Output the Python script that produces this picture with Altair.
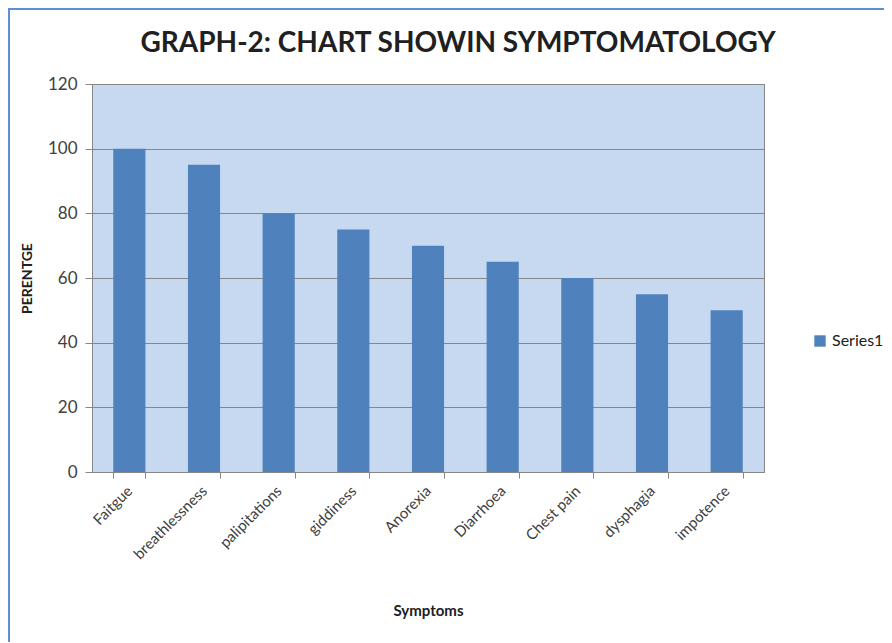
import altair as alt
import pandas as pd

symptoms = ["Faitgue", "breathlessness", "palipitations", "giddiness", "Anorexia",
            "Diarrhoea", "Chest pain", "dysphagia", "impotence"]
values = [100, 95, 80, 75, 70, 65, 60, 55, 50]
series = ["Series1"] * len(symptoms)
chart_title = ["GRAPH-2: CHART SHOWIN SYMPTOMATOLOGY"]

df = pd.DataFrame({"Symptom": symptoms, "Value": values, "Series": series})

FONT = "Lato"

bars = alt.Chart(df).mark_bar(color="#4F81BD").encode(
    x=alt.X("Symptom:N", sort=symptoms,
            scale=alt.Scale(paddingInner=0.57, paddingOuter=0.285),
            axis=alt.Axis(title="Symptoms", labelAngle=-45, labelAlign="right",
                          labelBaseline="middle", labelFontSize=15, labelColor="#404040",
                          labelFont=FONT, labelPadding=10,
                          tickBand="extent", tickSize=6, tickColor="#868686",
                          domainColor="#868686", titleFont=FONT, titleFontSize=15,
                          titleFontWeight="bold", titleColor="#202020",
                          titleY=138, titleBaseline="middle", grid=False)),
    y=alt.Y("Value:Q", scale=alt.Scale(domain=[0, 120]),
            axis=alt.Axis(title="PERENTGE", values=[0, 20, 40, 60, 80, 100, 120],
                          labelFontSize=17, labelColor="#404040", labelFont=FONT,
                          labelPadding=8, tickSize=7, tickColor="#868686",
                          domainColor="#868686", gridColor="#868686", gridWidth=1,
                          titleFont=FONT, titleFontSize=14, titleFontWeight="bold",
                          titleColor="#202020", titleX=-65, titleBaseline="middle")),
    color=alt.Color("Series:N", scale=alt.Scale(range=["#4F81BD"]),
                    legend=alt.Legend(title=None, orient="none", legendX=720, legendY=249,
                                      symbolType="square", symbolSize=130,
                                      symbolStrokeWidth=0, labelFont=FONT,
                                      labelFontSize=16, labelColor="#202020")),
)

title_df = pd.DataFrame({"t": chart_title})
title_mark = alt.Chart(title_df).mark_text(
    font=FONT, fontSize=28, fontWeight="bold", color="#202020",
    align="center", baseline="alphabetic").encode(
    text="t:N", x=alt.value(366), y=alt.value(-32))

frame_df = pd.DataFrame({"k": [0]})
left_border = alt.Chart(frame_df).mark_rule(color="#5B8FD6", strokeWidth=2).encode(
    x=alt.value(-83), y=alt.value(-75), y2=alt.value(700))
top_border = alt.Chart(frame_df).mark_rule(color="#5B8FD6", strokeWidth=2).encode(
    x=alt.value(-84), x2=alt.value(900), y=alt.value(-75), y2=alt.value(-75))

chart = alt.layer(bars, title_mark, left_border, top_border).properties(
    width=672, height=388,
    autosize=alt.AutoSizeParams(type="none"),
    padding={"left": 84, "top": 76, "right": 120, "bottom": 170},
    background="white",
).configure_view(fill="#C6D9F1", stroke="#868686")

chart.save("out.html", embed_options={"renderer": "svg", "actions": False})
